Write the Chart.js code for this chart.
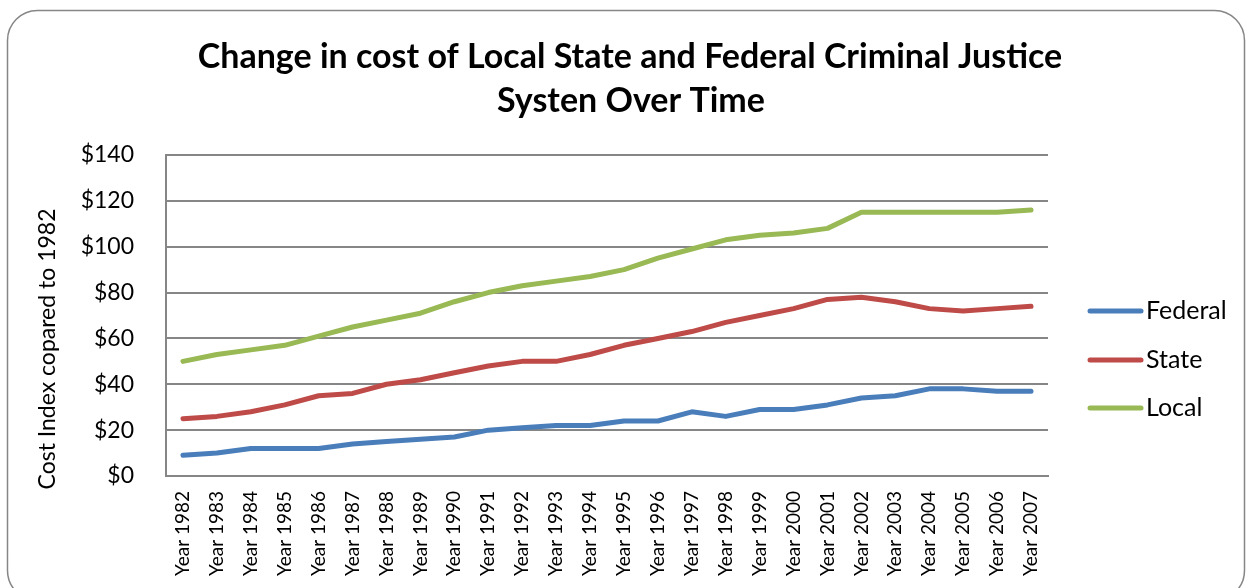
<!DOCTYPE html>
<html>
<head>
<meta charset="utf-8">
<script src="https://cdn.jsdelivr.net/npm/chart.js@4/dist/chart.umd.min.js"></script>
<style>
html,body{margin:0;padding:0;background:#fff;}
#wrap{width:1250px;height:588px;position:relative;}
</style>
</head>
<body>
<div id="wrap"><canvas id="c" width="1250" height="588"></canvas></div>
<script>
const categories = ["Year 1982","Year 1983","Year 1984","Year 1985","Year 1986","Year 1987","Year 1988","Year 1989","Year 1990","Year 1991","Year 1992","Year 1993","Year 1994","Year 1995","Year 1996","Year 1997","Year 1998","Year 1999","Year 2000","Year 2001","Year 2002","Year 2003","Year 2004","Year 2005","Year 2006","Year 2007"];
const federal = [9,10,12,12,12,14,15,16,17,20,21,22,22,24,24,28,26,29,29,31,34,35,38,38,37,37];
const state = [25,26,28,31,35,36,40,42,45,48,50,50,53,57,60,63,67,70,73,77,78,76,73,72,73,74];
const local = [50,53,55,57,61,65,68,71,76,80,83,85,87,90,95,99,103,105,106,108,115,115,115,115,115,116];
const seriesNames = ["Federal","State","Local"];
const seriesColors = ["#4a7ebb","#be4b48","#98b954"];
const titleLines = ["Change in cost of Local State and Federal Criminal Justice","Systen Over Time"];
const yAxisTitle = "Cost Index copared to 1982";

const FONT = "Lato, 'Open Sans', sans-serif";

const frame = {
  id: 'frame',
  beforeDraw(chart){
    const ctx = chart.ctx;
    ctx.save();
    ctx.fillStyle = '#fff';
    ctx.fillRect(0,0,chart.width,chart.height);
    ctx.strokeStyle = '#868686';
    ctx.lineWidth = 1.5;
    const x=7.5,y=10.5,w=1237,h=590,r=30;
    ctx.beginPath();
    ctx.moveTo(x+r,y);
    ctx.lineTo(x+w-r,y);
    ctx.arcTo(x+w,y,x+w,y+r,r);
    ctx.lineTo(x+w,y+h-r);
    ctx.arcTo(x+w,y+h,x+w-r,y+h,r);
    ctx.lineTo(x+r,y+h);
    ctx.arcTo(x,y+h,x,y+h-r,r);
    ctx.lineTo(x,y+r);
    ctx.arcTo(x,y,x+r,y,r);
    ctx.closePath();
    ctx.stroke();
    ctx.restore();
  }
};

const textPlugin = {
  id: 'texts',
  afterDraw(chart){
    const ctx = chart.ctx;
    ctx.save();
    // title
    ctx.fillStyle = '#000';
    ctx.textAlign = 'center';
    ctx.textBaseline = 'middle';
    ctx.font = 'bold 34px ' + FONT;
    ctx.fillText(titleLines[0], 630, 57);
    ctx.fillText(titleLines[1], 631, 101);
    // y axis title
    ctx.save();
    ctx.translate(48, 349);
    ctx.rotate(-Math.PI/2);
    ctx.font = '23px ' + FONT;
    ctx.fillText(yAxisTitle, 0, 0);
    ctx.restore();
    // legend
    const ys = [311,360,408];
    chart.data.datasets.forEach((ds,i)=>{
      ctx.strokeStyle = ds.borderColor;
      ctx.lineWidth = 5;
      ctx.lineCap = 'round';
      ctx.beginPath();
      ctx.moveTo(1090, ys[i]);
      ctx.lineTo(1141, ys[i]);
      ctx.stroke();
      ctx.fillStyle = '#000';
      ctx.font = '25px ' + FONT;
      ctx.textBaseline = 'middle';
      ctx.textAlign = 'left';
      ctx.fillText(ds.label, 1146, ys[i]);
    });
    ctx.restore();
  }
};

new Chart(document.getElementById('c'), {
  type: 'line',
  data: {
    labels: categories,
    datasets: [
      {label: seriesNames[0], data: federal, borderColor: seriesColors[0], backgroundColor: seriesColors[0]},
      {label: seriesNames[1], data: state, borderColor: seriesColors[1], backgroundColor: seriesColors[1]},
      {label: seriesNames[2], data: local, borderColor: seriesColors[2], backgroundColor: seriesColors[2]}
    ]
  },
  options: {
    responsive: false,
    animation: false,
    devicePixelRatio: 1,
    layout: {padding: {top: 155, left: 0, right: 202, bottom: 0}},
    elements: {
      line: {borderWidth: 5, tension: 0, borderCapStyle: 'round', borderJoinStyle: 'round'},
      point: {radius: 0, hoverRadius: 0}
    },
    plugins: {
      legend: {display: false},
      tooltip: {enabled: false},
      title: {display: false}
    },
    scales: {
      x: {
        offset: true,
        grid: {display: false, drawTicks: false},
        border: {display: true, color: '#868686', width: 2},
        ticks: {
          color: '#000', maxRotation: 90, minRotation: 90, autoSkip: false,
          padding: 15, font: {family: FONT, size: 19}
        },
        afterFit(scale){ scale.height = 112; }
      },
      y: {
        min: 0, max: 140,
        grid: {color: '#868686', lineWidth: 2, drawTicks: false},
        border: {display: true, color: '#868686', width: 2},
        ticks: {
          stepSize: 20, color: '#000', padding: 32,
          font: {family: FONT, size: 23},
          callback: v => '$' + v
        },
        afterFit(scale){ scale.width = 166; }
      }
    }
  },
  plugins: [frame, textPlugin]
});
</script>
</body>
</html>
